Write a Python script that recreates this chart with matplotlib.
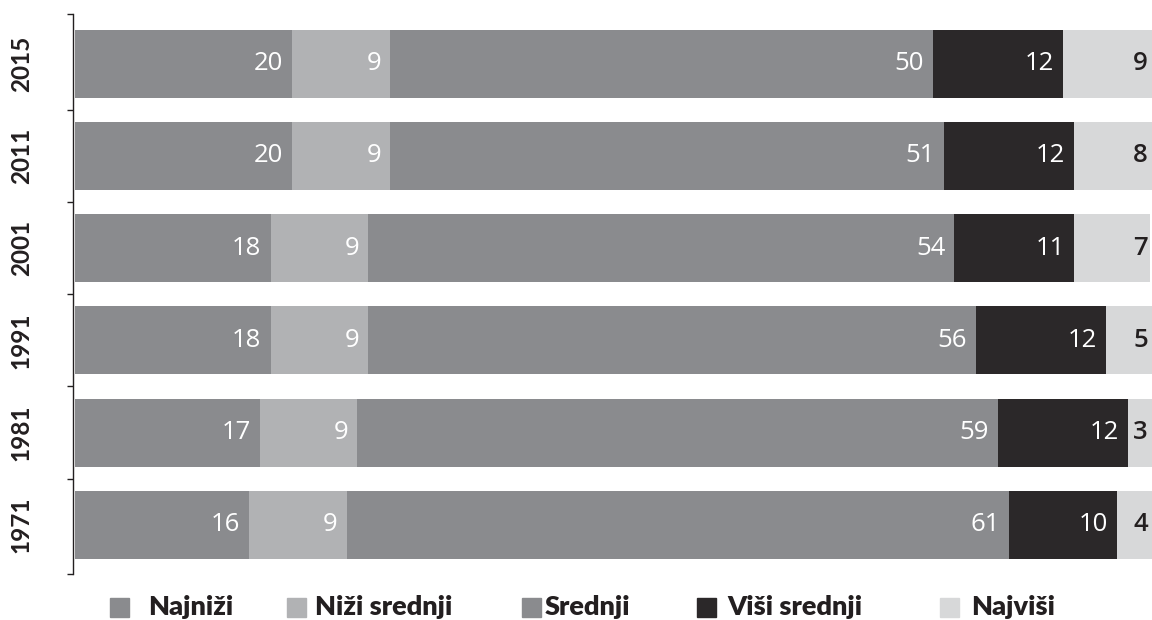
import matplotlib
matplotlib.use("Agg")
import matplotlib.pyplot as plt
from matplotlib.patches import Rectangle
from matplotlib.ticker import FixedLocator
import numpy as np

years = ["2015", "2011", "2001", "1991", "1981", "1971"]
categories = ["Najniži", "Niži srednji", "Srednji", "Viši srednji", "Najviši"]
najnizi = [20, 20, 18, 18, 17, 16]
nizi_srednji = [9, 9, 9, 9, 9, 9]
srednji = [50, 51, 54, 56, 59, 61]
visi_srednji = [12, 12, 11, 12, 12, 10]
najvisi = [9, 8, 7, 5, 3, 4]
series = [najnizi, nizi_srednji, srednji, visi_srednji, najvisi]

colors = ["#8a8b8e", "#b1b2b4", "#8a8b8e", "#2b2829", "#d7d8d9"]
label_colors = ["white", "white", "white", "white", "#231f20"]
dark = "#231f20"

W, H = 1152, 620
fig = plt.figure(figsize=(W / 100, H / 100), dpi=100)
ax = fig.add_axes([73 / W, 1 - 574 / H, 1 - 73 / W, (574 - 14) / H])

ypos = np.arange(len(years))
left = np.zeros(len(years))
for i, (vals, col) in enumerate(zip(series, colors)):
    vals = np.array(vals, dtype=float)
    ax.barh(ypos, vals, left=left, height=0.737, color=col, edgecolor="none", zorder=2)
    for j, v in enumerate(vals):
        if i < len(series) - 1:
            ax.annotate(f"{int(v)}", xy=(left[j] + v, ypos[j]), xytext=(-6.5, 0),
                        textcoords="offset points", ha="right", va="center",
                        color=label_colors[i], fontsize=18.5, family="Open Sans",
                        fontweight="medium")
        else:
            ax.annotate(f"{int(v)}", xy=(1.0, ypos[j]), xycoords=ax.get_yaxis_transform(),
                        xytext=(-3, 0), textcoords="offset points", ha="right", va="center",
                        color=label_colors[i], fontsize=18.5, family="Open Sans",
                        fontweight="semibold", annotation_clip=False)
    left += vals

y_lo, y_hi = -0.538, len(years) - 0.467
ax.set_xlim(-0.2, 99.2)
ax.set_ylim(y_hi, y_lo)
ax.set_yticks(ypos)
ax.set_yticklabels(years, rotation=90, va="center", fontsize=17.5,
                   fontweight="bold", family="Lato", color=dark)
minor = [y_lo] + list(np.arange(0.5, len(years) - 1, 1.0)) + [y_hi]
ax.yaxis.set_minor_locator(FixedLocator(minor))
ax.tick_params(axis="y", which="major", length=0, pad=29)
ax.tick_params(axis="y", which="minor", length=4.5, width=1.0, color=dark, direction="out")
ax.set_xticks([])
for s in ["top", "right", "bottom"]:
    ax.spines[s].set_visible(False)
ax.spines["left"].set_color(dark)
ax.spines["left"].set_linewidth(1.0)

# legend, manually placed
sq_x = [110, 287, 522, 697, 940]
txt_x = [148, 315, 545, 727, 971]
leg_y = 607
sq = 19
for c, col, sx, tx in zip(categories, colors, sq_x, txt_x):
    fig.patches.append(Rectangle((sx / W, 1 - leg_y / H - (sq / 2) / H), sq / W, sq / H,
                                 transform=fig.transFigure, color=col, figure=fig))
    fig.text(tx / W, 1 - leg_y / H, c, ha="left", va="center", fontsize=19.5,
             fontweight="heavy", family="Lato", color=dark)

fig.savefig("out.png", dpi=100)
